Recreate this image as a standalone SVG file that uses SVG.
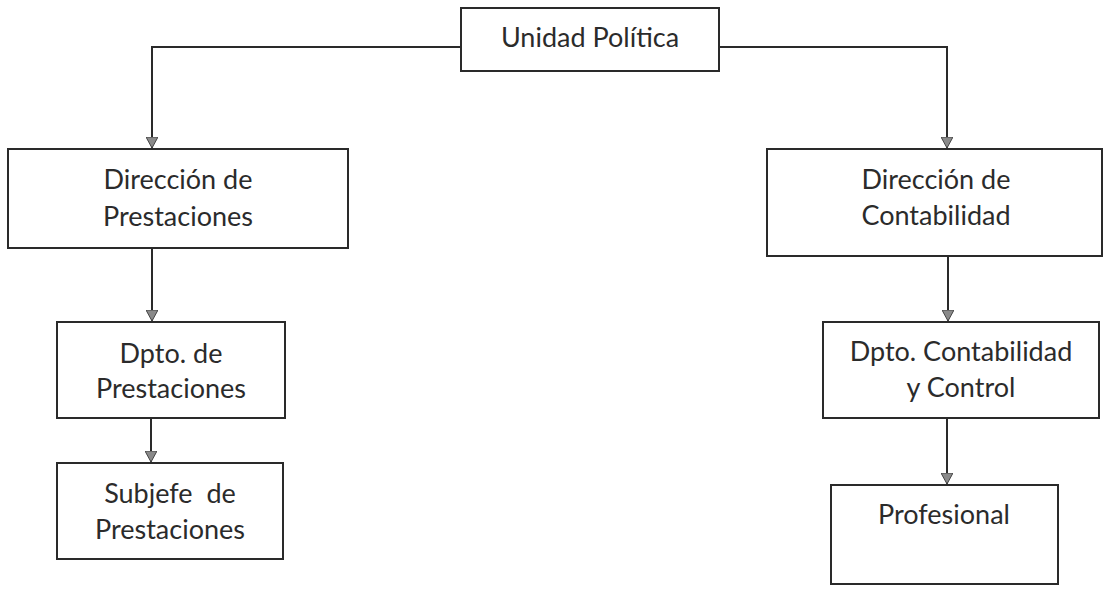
<svg xmlns="http://www.w3.org/2000/svg" width="1104" height="593" viewBox="0 0 1104 593">
<style>
.box{fill:#fff;stroke:#2a2a2a;stroke-width:2}
.lbl{font-family:Lato,"Open Sans","Liberation Sans",sans-serif;font-size:27px;fill:#2b2b2b;text-anchor:middle;white-space:pre}
.con{fill:none;stroke:#2a2a2a;stroke-width:2}
</style>
<defs>
<marker id="arr" markerWidth="14" markerHeight="12" refX="11" refY="6" orient="auto" markerUnits="userSpaceOnUse">
<path d="M0,0 L11,6 L0,12 Z" fill="#8a8a8a" stroke="#444" stroke-width="1"/>
</marker>
</defs>
<rect width="1104" height="593" fill="#fff"/>
<g id="connectors">
<path class="con" d="M461,47 H152 V148" marker-end="url(#arr)"/>
<path class="con" d="M719,47 H947 V148" marker-end="url(#arr)"/>
<path class="con" d="M152,248 V321" marker-end="url(#arr)"/>
<path class="con" d="M948,256 V321" marker-end="url(#arr)"/>
<path class="con" d="M151,418 V462" marker-end="url(#arr)"/>
<path class="con" d="M947,418 V484" marker-end="url(#arr)"/>
</g>
<g id="unidad">
<rect class="box" x="461" y="8" width="258" height="63"/>
<text class="lbl" x="590" y="47">Unidad Política</text>
</g>
<g id="dir-prestaciones">
<rect class="box" x="8" y="149" width="340" height="99"/>
<text class="lbl" x="178" y="189">Dirección de</text>
<text class="lbl" x="178" y="226">Prestaciones</text>
</g>
<g id="dir-contabilidad">
<rect class="box" x="767" y="149" width="335" height="107"/>
<text class="lbl" x="936" y="189">Dirección de</text>
<text class="lbl" x="936" y="225">Contabilidad</text>
</g>
<g id="dpto-prestaciones">
<rect class="box" x="57" y="322" width="228" height="96"/>
<text class="lbl" x="171" y="363">Dpto. de</text>
<text class="lbl" x="171" y="398">Prestaciones</text>
</g>
<g id="subjefe">
<rect class="box" x="57" y="463" width="226" height="96"/>
<text class="lbl" x="170" y="503" xml:space="preserve">Subjefe  de</text>
<text class="lbl" x="170" y="539">Prestaciones</text>
</g>
<g id="dpto-contabilidad">
<rect class="box" x="823" y="322" width="276" height="96"/>
<text class="lbl" x="961" y="361">Dpto. Contabilidad</text>
<text class="lbl" x="961" y="397">y Control</text>
</g>
<g id="profesional">
<rect class="box" x="831" y="485" width="227" height="99"/>
<text class="lbl" x="944" y="524">Profesional</text>
</g>
</svg>
